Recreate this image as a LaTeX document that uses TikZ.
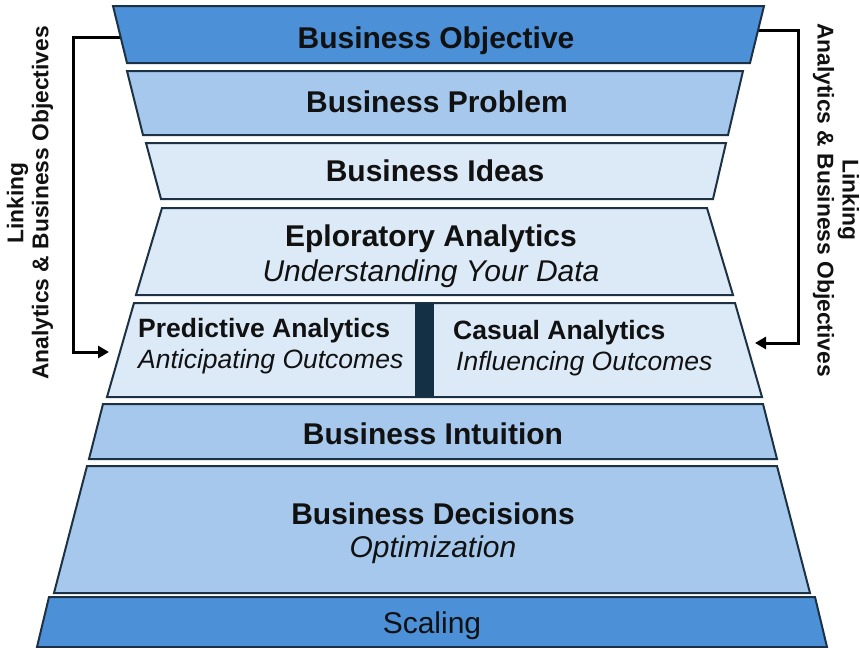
\documentclass[tikz,border=0pt]{standalone}
\usepackage{fontspec}
\setmainfont{Liberation Sans}
\usetikzlibrary{arrows.meta}
\definecolor{cDark}{RGB}{76,144,216}
\definecolor{cMid}{RGB}{166,200,236}
\definecolor{cLight}{RGB}{220,233,247}
\definecolor{cEdge}{RGB}{28,50,68}
\definecolor{cBar}{RGB}{20,48,68}
\definecolor{cText}{RGB}{17,17,17}
\begin{document}
\begin{tikzpicture}[x=1pt,y=-1pt,
  tier/.style={draw=cEdge,line width=2pt,line join=miter},
  boldtxt/.style={text=cText,inner sep=0pt,font=\fontsize{30}{36}\selectfont\bfseries},
  itatxt/.style={text=cText,inner sep=0pt,font=\fontsize{30}{36}\selectfont\itshape},
  plaintxt/.style={text=cText,inner sep=0pt,font=\fontsize{30}{36}\selectfont},
  boldsmall/.style={text=cText,inner sep=0pt,anchor=west,font=\fontsize{26.5}{32}\selectfont\bfseries},
  itasmall/.style={text=cText,inner sep=0pt,anchor=west,font=\fontsize{26.5}{32}\selectfont\itshape},
  sidetxt/.style={text=cText,align=center,inner sep=0pt,font=\fontsize{22.8}{25}\selectfont\bfseries},
  link/.style={draw=black,line width=3pt,line join=miter,-{Triangle[length=11pt,width=12pt]}}]
\useasboundingbox (0,0) rectangle (860,648);
\fill[white] (0,0) rectangle (860,648);

% connectors (behind the tiers)
\coordinate (ls) at (122,37);
\coordinate (l1) at (73,37);
\coordinate (l2) at (73,352);
\coordinate (le) at (109,352);
\draw[link] (ls) -- (l1) -- (l2) -- (le);
\coordinate (rs) at (756,30);
\coordinate (r1) at (798,30);
\coordinate (r2) at (798,343);
\coordinate (re) at (755,343);
\draw[link] (rs) -- (r1) -- (r2) -- (re);

% tiers
\draw[tier,fill=cDark]  (113,6) -- (764,6) -- (750,63) -- (127,63) -- cycle;
\draw[tier,fill=cMid]   (127,71) -- (743,71) -- (728,135) -- (143,135) -- cycle;
\draw[tier,fill=cLight] (146,143) -- (726,143) -- (713,199) -- (161,199) -- cycle;
\draw[tier,fill=cLight] (162,208) -- (707,208) -- (733,295) -- (136,295) -- cycle;
\draw[tier,fill=cLight] (134,303) -- (735,303) -- (762,397) -- (107,397) -- cycle;
\fill[cBar] (415,303) rectangle (434,397);
\draw[tier,fill=cMid]   (103,404) -- (763,404) -- (777,459) -- (89,459) -- cycle;
\draw[tier,fill=cMid]   (87,466) -- (777,466) -- (810,593) -- (54,593) -- cycle;
\draw[tier,fill=cDark]  (49,597) -- (815,597) -- (827,647) -- (37,647) -- cycle;

% texts
\node[boldtxt] (obj) at (436,41) {Business Objective};
\node[boldtxt] (prob) at (437,102) {Business Problem};
\node[boldtxt] (idea) at (435,171) {Business Ideas};
\node[boldtxt] (expl) at (431,239) {Eploratory Analytics};
\node[itatxt] (expls) at (431,274) {Understanding Your Data};
\node[boldsmall] (pred) at (138,331) {Predictive Analytics};
\node[itasmall] (preds) at (138,362) {Anticipating Outcomes};
\node[boldsmall] (caus) at (453,333) {Casual Analytics};
\node[itasmall] (causs) at (456,364) {Influencing Outcomes};
\node[boldtxt] (intu) at (433,434) {Business Intuition};
\node[boldtxt] (deci) at (433,514) {Business Decisions};
\node[itatxt] (decis) at (433,550) {Optimization};
\node[plaintxt] (scal) at (432,626) {Scaling};

\node[sidetxt,rotate=90] (lt) at (30,203) {Linking\\Analytics \& Business Objectives};
\node[sidetxt,rotate=-90] (rt) at (836,200) {Linking\\Analytics \& Business Objectives};
\end{tikzpicture}
\end{document}
